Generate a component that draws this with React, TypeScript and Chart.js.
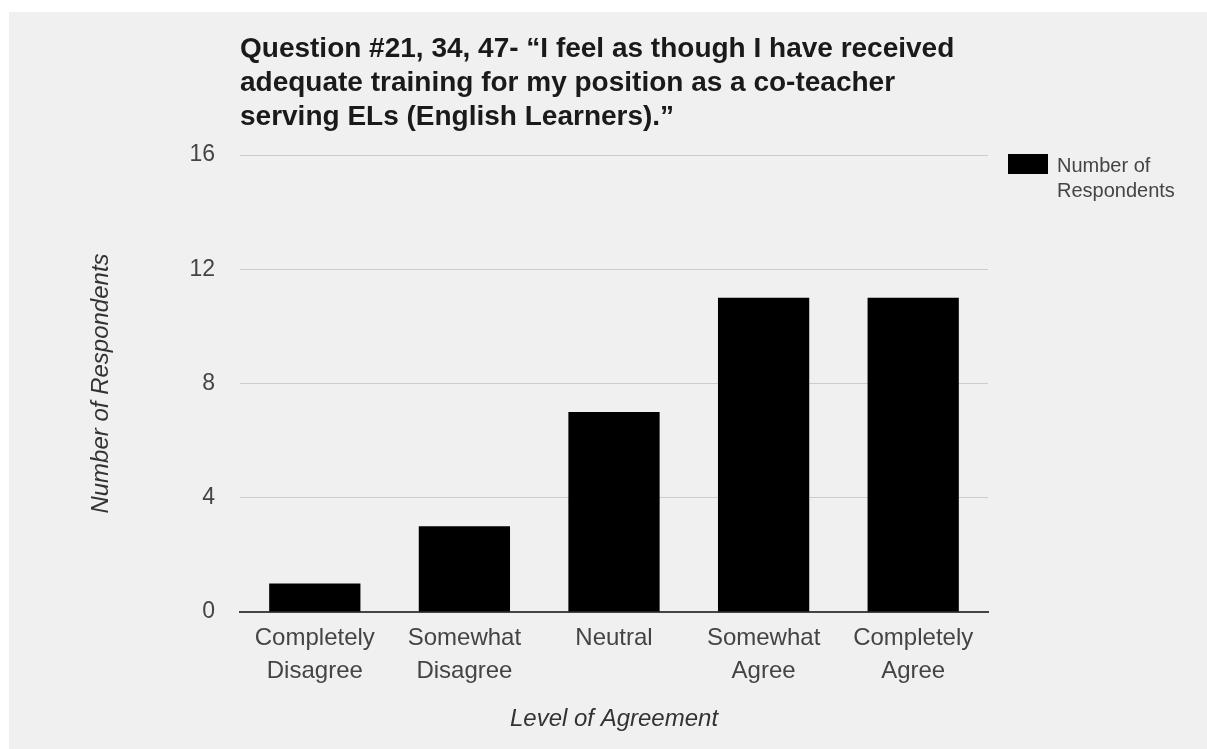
import React, { useEffect, useRef } from "react";
import { Chart, registerables } from "chart.js";

Chart.register(...registerables);

const categories: string[][] = [
  ["Completely", "Disagree"],
  ["Somewhat", "Disagree"],
  ["Neutral"],
  ["Somewhat", "Agree"],
  ["Completely", "Agree"],
];
const respondents: number[] = [1, 3, 7, 11, 11];
const yTicks: number[] = [0, 4, 8, 12, 16];
const titleLines: string[] = [
  "Question #21, 34, 47- \u201cI feel as though I have received",
  "adequate training for my position as a co-teacher",
  "serving ELs (English Learners).\u201d",
];
const seriesName = "Number of Respondents";
const legendLines: string[] = ["Number of", "Respondents"];
const xTitle = "Level of Agreement";
const yTitle = "Number of Respondents";

const FONT = "'Liberation Sans', Arial, Helvetica, sans-serif";

const decorPlugin = {
  id: "decor",
  afterDraw(chart: any) {
    const { ctx, chartArea } = chart;
    ctx.save();
    // title
    ctx.fillStyle = "#1a1a1a";
    ctx.font = `bold 28px ${FONT}`;
    ctx.textAlign = "left";
    ctx.textBaseline = "alphabetic";
    titleLines.forEach((line, i) => {
      ctx.fillText(line, chartArea.left, 45 + i * 34);
    });
    // x axis title
    ctx.fillStyle = "#333";
    ctx.font = `italic 24px ${FONT}`;
    ctx.textAlign = "center";
    ctx.fillText(xTitle, (chartArea.left + chartArea.right) / 2, 714);
    // y axis title
    ctx.save();
    ctx.translate(99, (chartArea.top + chartArea.bottom) / 2);
    ctx.rotate(-Math.PI / 2);
    ctx.textAlign = "center";
    ctx.fillText(yTitle, 0, 0);
    ctx.restore();
    // legend
    ctx.fillStyle = "#000";
    ctx.fillRect(999, 142, 40, 20);
    ctx.fillStyle = "#444";
    ctx.font = `20px ${FONT}`;
    ctx.textAlign = "left";
    legendLines.forEach((line, i) => {
      ctx.fillText(line, 1048, 160 + i * 25);
    });
    ctx.restore();
  },
};

export default function App() {
  const ref = useRef<HTMLCanvasElement | null>(null);
  useEffect(() => {
    if (!ref.current) return;
    Chart.defaults.font.family = FONT;
    const chart = new Chart(ref.current, {
      type: "bar",
      data: {
        labels: categories,
        datasets: [
          {
            label: seriesName,
            data: respondents,
            backgroundColor: "#000000",
            borderWidth: 0,
            categoryPercentage: 1,
            barPercentage: 0.61,
          },
        ],
      },
      options: {
        animation: false,
        responsive: false,
        maintainAspectRatio: false,
        layout: { padding: { top: 143, right: 219, left: 0, bottom: 0 } },
        plugins: {
          legend: { display: false },
          title: { display: false },
          tooltip: { enabled: false },
        },
        scales: {
          x: {
            grid: { display: false, drawTicks: false },
            border: { display: true, color: "#444", width: 2 },
            ticks: {
              color: "#444",
              font: { size: 24, lineHeight: 1.36 },
              padding: 10,
              maxRotation: 0,
              autoSkip: false,
            },
            afterFit: (scale: any) => {
              scale.height = 137;
            },
          },
          y: {
            min: 0,
            max: 16,
            afterBuildTicks: (scale: any) => {
              scale.ticks = yTicks.map((v) => ({ value: v }));
            },
            grid: {
              drawTicks: false,
              color: "#cccccc",
              lineWidth: 1,
            },
            border: { display: false },
            ticks: {
              color: "#444",
              font: { size: 23 },
              padding: 25,
            },
            afterFit: (scale: any) => {
              scale.width = 231;
            },
          },
        },
      },
      plugins: [decorPlugin],
    });
    return () => chart.destroy();
  }, []);
  return (
    <div
      style={{
        position: "fixed",
        left: 9,
        top: 12,
        width: 1198,
        height: 737,
        background: "#f0f0f0",
      }}
    >
      <canvas ref={ref} width={1198} height={737} style={{ display: "block", width: 1198, height: 737 }} />
    </div>
  );
}
